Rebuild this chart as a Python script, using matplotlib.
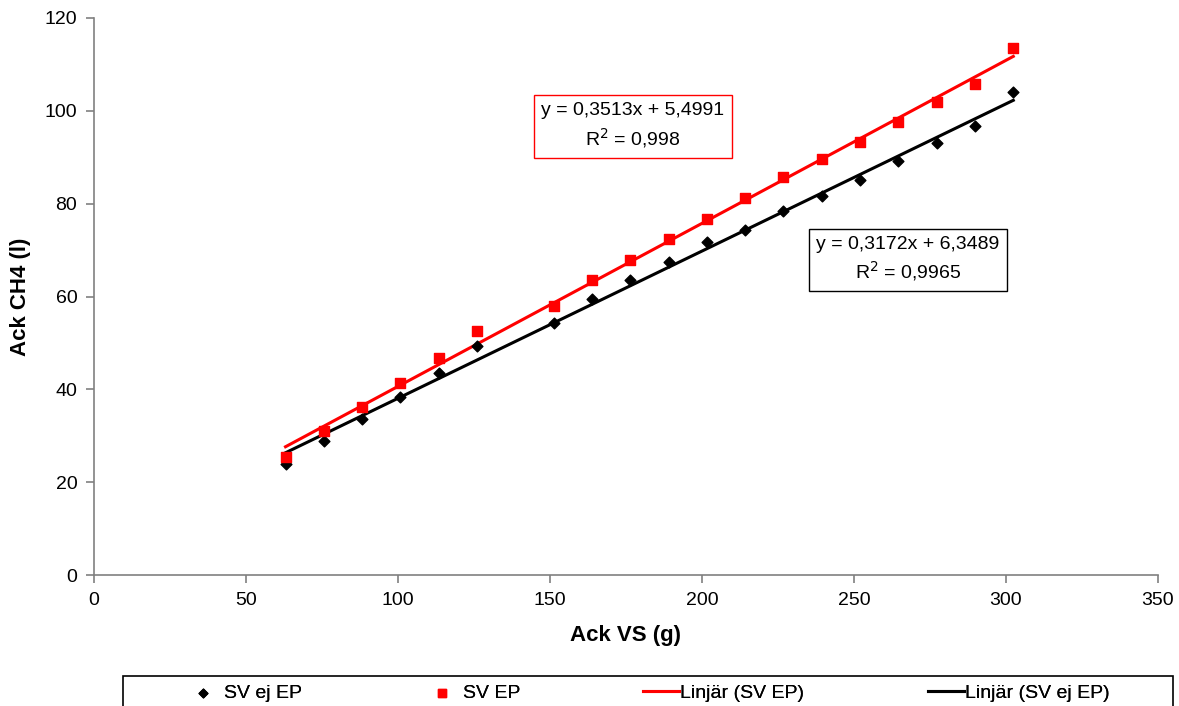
import numpy as np
import matplotlib.pyplot as plt
from matplotlib.patches import Rectangle

plt.rcParams['font.family'] = ['Liberation Sans', 'DejaVu Sans']

# Accumulated VS (g)
ack_vs = [63.0, 75.6, 88.2, 100.8, 113.4, 126.0, 151.2, 163.8, 176.4, 189.0,
          201.6, 214.2, 226.8, 239.4, 252.0, 264.6, 277.2, 289.8, 302.4]
# Accumulated CH4 (l)
ch4_ep = [25.4, 31.0, 36.2, 41.4, 46.7, 52.6, 58.0, 63.5, 67.9, 72.4,
          76.7, 81.2, 85.7, 89.6, 93.3, 97.6, 101.9, 105.8, 113.5]
ch4_ej_ep = [23.9, 28.9, 33.6, 38.3, 43.5, 49.3, 54.3, 59.5, 63.5, 67.4,
             71.7, 74.3, 78.4, 81.6, 85.1, 89.2, 93.1, 96.7, 104.0]

# trendline coefficients (slope, intercept, R2)
fit_ep = (0.3513, 5.4991, 0.998)
fit_ej_ep = (0.3172, 6.3489, 0.9965)

W, H = 1179, 706
fig = plt.figure(figsize=(W / 100, H / 100), dpi=100)
ax = fig.add_axes([94 / W, 1 - 575 / H, 1064 / W, 557 / H])

x = np.array(ack_vs)
xl = np.array([x.min(), x.max()])

h_ej = ax.scatter(x, ch4_ej_ep, marker='D', s=30, color='black', zorder=3, label='SV ej EP')
h_ep = ax.scatter(x, ch4_ep, marker='s', s=60, color='#ff0000', zorder=3, label='SV EP')
l_ep, = ax.plot(xl, fit_ep[0] * xl + fit_ep[1], color='#ff0000', lw=2.2, label='Linjär (SV EP)')
l_ej, = ax.plot(xl, fit_ej_ep[0] * xl + fit_ej_ep[1], color='black', lw=2.2, label='Linjär (SV ej EP)')

ax.set_xlim(0, 350)
ax.set_ylim(0, 120)
ax.set_xticks(range(0, 351, 50))
ax.set_yticks(range(0, 121, 20))
for s in ['top', 'right']:
    ax.spines[s].set_visible(False)
for s in ['left', 'bottom']:
    ax.spines[s].set_color('#808080')
    ax.spines[s].set_linewidth(1.2)
ax.tick_params(direction='out', length=6, width=1.2, color='#808080',
               labelsize=14, pad=6)

ax.set_xlabel('Ack VS (g)', fontsize=16, fontweight='bold', labelpad=12)
ax.set_ylabel('Ack CH4 (l)', fontsize=16, fontweight='bold', labelpad=10)


def eq_text(fit):
    eq = ('y = %.4fx + %.4f' % (fit[0], fit[1])).replace('.', ',')
    r2 = (' = %s' % fit[2]).replace('.', ',')
    return eq + '\n' + r'R$^2$' + r2


fig.text(633 / W, 1 - 126 / H, eq_text(fit_ep), ha='center', va='center',
         fontsize=14, linespacing=1.35,
         bbox=dict(boxstyle='square,pad=0.4', fc='white', ec='#ff0000', lw=1))
fig.text(908 / W, 1 - 259.5 / H, eq_text(fit_ej_ep), ha='center', va='center',
         fontsize=14, linespacing=1.35,
         bbox=dict(boxstyle='square,pad=0.4', fc='white', ec='black', lw=1))

# legend frame along the bottom, running off the lower edge
fig.add_artist(Rectangle((123 / W, -0.05), 1050 / W, 0.05 + 1 - 676 / H,
                         transform=fig.transFigure, fc='white', ec='black', lw=1.2))

# one legend per entry, each at its own position inside the frame
entries = [(h_ej, 193, 1.0, 0.6), (h_ep, 432, 1.0, 0.6),
           (l_ep, 643, 1.85, 0.05), (l_ej, 928, 1.85, 0.05)]
for handle, xpos, hl, hp in entries:
    lg = fig.legend([handle], [handle.get_label()], loc='center left',
                    bbox_to_anchor=(xpos / W, 1 - 693 / H), frameon=False,
                    fontsize=14, borderpad=0, borderaxespad=0,
                    handlelength=hl, handletextpad=hp, markerscale=0.8)
    fig.add_artist(lg)

fig.savefig('out.png', dpi=100)
